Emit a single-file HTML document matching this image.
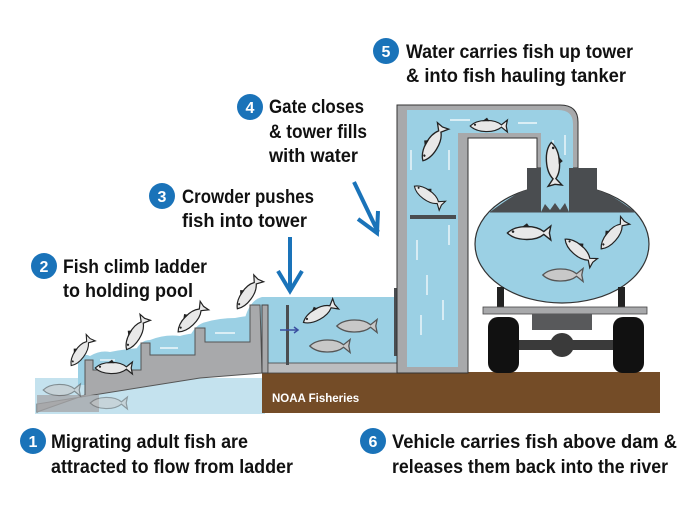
<!DOCTYPE html>
<html><head><meta charset="utf-8"><style>
html,body{margin:0;padding:0;background:#fff;}
svg{display:block;}
text.l{font-family:"Liberation Sans Narrow","Liberation Sans",sans-serif;font-weight:bold;font-size:19px;fill:#111;}
text.n{font-family:"Liberation Sans",sans-serif;font-weight:bold;font-size:16px;fill:#fff;}
</style></head><body>
<svg width="698" height="515" viewBox="0 0 698 515" xmlns="http://www.w3.org/2000/svg">
<defs>
<g id="fish">
<path d="M-14,0 C-8,-6 6,-6 12,-1 L17,-5 L16,0 L17,5 L12,1 C6,6 -8,6 -14,0Z" fill="#e8e8e8" stroke="#222" stroke-width="1"/>
<path d="M-4,-4 L0,-7 L2,-4" fill="#222"/>
<circle cx="-10" cy="-1" r="0.9" fill="#222"/>
</g>
<g id="fishg">
<path d="M-14,0 C-8,-6 6,-6 12,-1 L17,-5 L16,0 L17,5 L12,1 C6,6 -8,6 -14,0Z" fill="#c8c8c8" stroke="#555" stroke-width="1"/>
</g>
</defs>
<!-- river water -->
<rect x="35" y="378" width="230" height="36" fill="#c4e2ee"/>
<!-- ground -->
<rect x="262" y="372" width="398" height="41" fill="#744c27"/>
<text x="272" y="402" font-family="Liberation Sans,sans-serif" font-weight="bold" font-size="11.5" fill="#fff">NOAA Fisheries</text>
<!-- ladder water pools -->
<g fill="#9bd0e4">
<path d="M78,385 L78,362 Q82,352 90,356 Q100,350 110,352 Q125,349 141,348 L141,372 L93,372 L93,385 Z"/>
<path d="M135,352 Q140,340 150,340 Q165,334 180,336 Q190,333 195,334 L195,357 L141,357 Z"/>
<path d="M190,336 Q196,324 206,322 Q220,318 235,318 Q245,316 250,316 L250,344 L195,344 Z"/>
<path d="M245,318 Q250,300 262,297 L397,297 L397,365 L250,365 Z"/>
</g>
<!-- ladder gray -->
<path d="M85,360 L93,360 L93,370 L141,370 L141,343 L150,343 L150,355 L195,355 L195,328 L205,328 L205,342 L250,342 L250,305 L260,305 L262,373 L200,378 L37,404 L37,412 L85,395 Z" fill="#a8a9ab" stroke="#555" stroke-width="1"/>
<rect x="37" y="395" width="62" height="17" fill="#a8a9ab" opacity="0.8"/>
<g stroke="#fff" stroke-width="1.2"><line x1="100" y1="360" x2="115" y2="360"/><line x1="160" y1="348" x2="178" y2="348"/><line x1="215" y1="333" x2="235" y2="333"/></g>
<!-- pool -->
<rect x="262" y="305" width="6" height="68" fill="#a8a9ab" stroke="#444" stroke-width="1"/>
<rect x="268" y="363" width="130" height="10" fill="#bcbdbf" stroke="#444" stroke-width="0.8"/>
<rect x="286" y="305" width="3" height="60" fill="#4a4d50"/>
<path d="M280,330 L297,330" stroke="#3b4fa0" stroke-width="1.5"/><path d="M294,327 L298,330 L294,333" fill="none" stroke="#3b4fa0" stroke-width="1.5"/>
<rect x="394" y="288" width="4" height="68" fill="#4a4d50"/>
<!-- tower -->
<path d="M397,105 L560,105 Q578,105 578,122 L578,168 L537,168 L537,138 L468,138 L468,373 L397,373 Z" fill="#a8a9ab" stroke="#333" stroke-width="1"/>
<path d="M407,110 L558,110 Q573,110 573,124 L573,168 L541,168 L541,133 L458,133 L458,367 L407,367 Z" fill="#9bd0e4"/>
<rect x="410" y="215" width="46" height="4" fill="#4a4d50"/>
<g stroke="#fff" stroke-width="1.2">
<line x1="411" y1="170" x2="411" y2="150"/><line x1="449" y1="170" x2="449" y2="150"/>
<line x1="417" y1="260" x2="417" y2="240"/><line x1="449" y1="245" x2="449" y2="225"/>
<line x1="427" y1="295" x2="427" y2="275"/><line x1="443" y1="320" x2="443" y2="300"/>
<line x1="421" y1="335" x2="421" y2="315"/>
<line x1="450" y1="120" x2="470" y2="120"/><line x1="518" y1="123" x2="537" y2="123"/>
<line x1="553" y1="140" x2="553" y2="155"/><line x1="565" y1="135" x2="565" y2="155"/>
</g>
<!-- tank -->
<ellipse cx="562" cy="244" rx="87" ry="59" fill="#9bd0e4" stroke="#333" stroke-width="1.2"/>
<path d="M490,212 Q520,190 527,190 L527,168 L541,168 L541,212 Z M597,168 L597,190 Q610,193 635,212 L569,212 L569,168 Z" fill="#4a4d50"/>
<path d="M490,212 L635,212" stroke="#4a4d50" stroke-width="1"/>
<rect x="541" y="168" width="28" height="44" fill="#9bd0e4"/>
<path d="M541,212 L545,204 L550,210 L555,203 L560,210 L565,203 L569,212Z" fill="#4a4d50"/>
<!-- truck -->
<rect x="497" y="287" width="7" height="24" fill="#222"/><rect x="618" y="287" width="7" height="24" fill="#222"/>
<rect x="483" y="307" width="164" height="7" fill="#a8a9ab" stroke="#444" stroke-width="0.8"/>
<rect x="532" y="314" width="60" height="16" fill="#58595b"/>
<rect x="518" y="340" width="95" height="10" fill="#3a3a3a"/>
<circle cx="562" cy="345" r="12" fill="#3a3a3a"/>
<rect x="488" y="317" width="31" height="56" rx="10" fill="#111"/>
<rect x="613" y="317" width="31" height="56" rx="10" fill="#111"/>
<!-- fish -->
<use href="#fish" transform="translate(487,126) scale(1.2)"/>
<use href="#fish" transform="translate(432,145) rotate(-60) scale(1.3)"/>
<use href="#fish" transform="translate(427,195) rotate(35) scale(1.1)"/>
<use href="#fish" transform="translate(553,162) rotate(85) scale(1.4)"/>
<use href="#fish" transform="translate(527,233) scale(1.4)"/>
<use href="#fish" transform="translate(578,250) rotate(40) scale(1.2)"/>
<use href="#fish" transform="translate(612,236) rotate(-50) scale(1.2)"/>
<use href="#fishg" transform="translate(561,275) scale(1.3)"/>
<use href="#fish" transform="translate(318,314) rotate(-30) scale(1.2)"/>
<use href="#fishg" transform="translate(355,326) scale(1.3)"/>
<use href="#fishg" transform="translate(328,346) scale(1.3)"/>
<use href="#fish" transform="translate(247,295) rotate(-55) scale(1.2)"/>
<use href="#fish" transform="translate(190,320) rotate(-45) scale(1.2)"/>
<use href="#fish" transform="translate(135,335) rotate(-60) scale(1.2)"/>
<use href="#fish" transform="translate(80,353) rotate(-55) scale(1.1)"/>
<use href="#fish" transform="translate(112,368) scale(1.2)"/>
<use href="#fishg" transform="translate(60,390) scale(1.2)" opacity="0.6"/>
<use href="#fishg" transform="translate(107,403) scale(1.2)" opacity="0.5"/>
<!-- blue arrows -->
<g stroke="#1a73b9" stroke-width="4" fill="none">
<line x1="290" y1="237" x2="290" y2="290"/>
<path d="M278,271 L290,291 L302,271"/>
<line x1="354" y1="182" x2="378" y2="232"/>
<path d="M358,219 L377,233 L378,211"/>
</g>
<!-- labels -->
<g fill="#1a73b9">
<circle cx="33" cy="441" r="13"/><circle cx="44" cy="266" r="13"/><circle cx="162" cy="196" r="13"/>
<circle cx="250" cy="107" r="13"/><circle cx="386" cy="51" r="13"/><circle cx="373" cy="441" r="13"/>
</g>
<text class="n" x="33" y="447" text-anchor="middle">1</text>
<text class="n" x="44" y="272" text-anchor="middle">2</text>
<text class="n" x="162" y="202" text-anchor="middle">3</text>
<text class="n" x="250" y="113" text-anchor="middle">4</text>
<text class="n" x="386" y="57" text-anchor="middle">5</text>
<text class="n" x="373" y="447" text-anchor="middle">6</text>
<text class="l" x="51" y="448" textLength="197" lengthAdjust="spacingAndGlyphs">Migrating adult fish are</text>
<text class="l" x="51" y="473" textLength="242" lengthAdjust="spacingAndGlyphs">attracted to flow from ladder</text>
<text class="l" x="63" y="273" textLength="144" lengthAdjust="spacingAndGlyphs">Fish climb ladder</text>
<text class="l" x="63" y="297" textLength="130" lengthAdjust="spacingAndGlyphs">to holding pool</text>
<text class="l" x="182" y="203" textLength="132" lengthAdjust="spacingAndGlyphs">Crowder pushes</text>
<text class="l" x="182" y="227" textLength="125" lengthAdjust="spacingAndGlyphs">fish into tower</text>
<text class="l" x="269" y="113" textLength="95" lengthAdjust="spacingAndGlyphs">Gate closes</text>
<text class="l" x="269" y="138" textLength="98" lengthAdjust="spacingAndGlyphs">&amp; tower fills</text>
<text class="l" x="269" y="162" textLength="89" lengthAdjust="spacingAndGlyphs">with water</text>
<text class="l" x="406" y="58" textLength="227" lengthAdjust="spacingAndGlyphs">Water carries fish up tower</text>
<text class="l" x="406" y="82" textLength="220" lengthAdjust="spacingAndGlyphs">&amp; into fish hauling tanker</text>
<text class="l" x="392" y="448" textLength="285" lengthAdjust="spacingAndGlyphs">Vehicle carries fish above dam &amp;</text>
<text class="l" x="392" y="473" textLength="276" lengthAdjust="spacingAndGlyphs">releases them back into the river</text>
</svg>
</body></html>
